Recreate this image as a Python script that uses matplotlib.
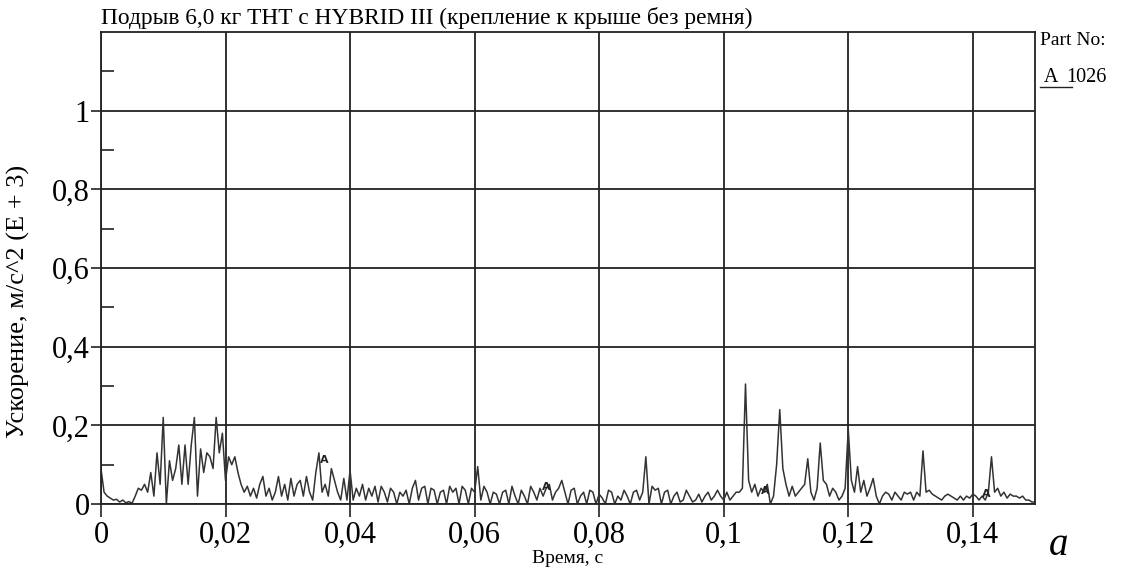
import numpy as np
import matplotlib
matplotlib.use('Agg')
from matplotlib import pyplot as plt
from matplotlib.ticker import FixedLocator

plt.rcParams['font.family'] = ['Liberation Serif', 'DejaVu Serif']

dt = 0.0005
accel = [
    0.09, 0.03, 0.02, 0.015, 0.01, 0.012, 0.005, 0.01, 0.003, 0.006,
    0.002, 0.02, 0.04, 0.035, 0.05, 0.03, 0.08, 0.02, 0.13, 0.05,
    0.22, 0.0, 0.11, 0.06, 0.09, 0.15, 0.05, 0.15, 0.05, 0.15,
    0.22, 0.02, 0.14, 0.08, 0.13, 0.12, 0.09, 0.22, 0.13, 0.18,
    0.06, 0.12, 0.10, 0.12, 0.08, 0.05, 0.03, 0.045, 0.02, 0.04,
    0.015, 0.05, 0.07, 0.02, 0.04, 0.01, 0.03, 0.07, 0.02, 0.05,
    0.01, 0.065, 0.02, 0.05, 0.06, 0.02, 0.07, 0.03, 0.01, 0.08,
    0.13, 0.03, 0.05, 0.02, 0.09, 0.06, 0.03, 0.01, 0.065, 0.01,
    0.085, 0.01, 0.04, 0.02, 0.05, 0.01, 0.04, 0.02, 0.045, 0.005,
    0.045, 0.03, 0.005, 0.04, 0.03, 0.0, 0.03, 0.02, 0.035, 0.0,
    0.04, 0.06, 0.01, 0.04, 0.045, 0.0, 0.04, 0.035, 0.0, 0.03,
    0.035, 0.0, 0.045, 0.03, 0.04, 0.0, 0.045, 0.035, 0.0, 0.04,
    0.03, 0.095, 0.01, 0.045, 0.03, 0.0, 0.03, 0.025, 0.0, 0.03,
    0.035, 0.0, 0.045, 0.02, 0.0, 0.035, 0.02, 0.0, 0.045, 0.03,
    0.01, 0.04, 0.02, 0.04, 0.05, 0.01, 0.03, 0.04, 0.06, 0.03,
    0.0, 0.035, 0.04, 0.0, 0.02, 0.03, 0.0, 0.035, 0.03, 0.0,
    0.025, 0.015, 0.0, 0.035, 0.03, 0.0, 0.02, 0.01, 0.035, 0.02,
    0.0, 0.03, 0.035, 0.01, 0.03, 0.12, 0.0, 0.045, 0.035, 0.04,
    0.0, 0.03, 0.035, 0.0, 0.02, 0.03, 0.005, 0.01, 0.035, 0.02,
    0.005, 0.01, 0.025, 0.005, 0.02, 0.03, 0.01, 0.02, 0.035, 0.02,
    0.01, 0.03, 0.01, 0.02, 0.03, 0.03, 0.04, 0.305, 0.06, 0.03,
    0.05, 0.02, 0.04, 0.03, 0.05, 0.0, 0.02, 0.10, 0.24, 0.09,
    0.05, 0.02, 0.045, 0.02, 0.03, 0.04, 0.05, 0.115, 0.03, 0.01,
    0.04, 0.155, 0.06, 0.05, 0.02, 0.04, 0.03, 0.01, 0.02, 0.04,
    0.19, 0.06, 0.03, 0.095, 0.03, 0.06, 0.02, 0.04, 0.065, 0.02,
    0.0, 0.02, 0.03, 0.025, 0.01, 0.03, 0.02, 0.01, 0.03, 0.025,
    0.03, 0.01, 0.03, 0.02, 0.135, 0.03, 0.035, 0.025, 0.02, 0.015,
    0.01, 0.02, 0.025, 0.02, 0.015, 0.01, 0.02, 0.01, 0.02, 0.015,
    0.025, 0.02, 0.01, 0.02, 0.01, 0.03, 0.12, 0.03, 0.04, 0.02,
    0.03, 0.015, 0.025, 0.02, 0.02, 0.015, 0.02, 0.01, 0.01, 0.005,
    0.005,
]
time = np.arange(len(accel)) * dt

# "A" markers along the trace
mark_t = [0.0359, 0.0715, 0.1067, 0.1422]
mark_y = [0.112, 0.043, 0.033, 0.025]

xticks = [0, 0.02, 0.04, 0.06, 0.08, 0.1, 0.12, 0.14]
xlabels = ['0', '0,02', '0,04', '0,06', '0,08', '0,1', '0,12', '0,14']
yticks = [0, 0.2, 0.4, 0.6, 0.8, 1.0]
ylabels = ['0', '0,2', '0,4', '0,6', '0,8', '1']

fig = plt.figure(figsize=(11.23, 5.72), dpi=100)
ax = fig.add_axes([0.0899, 0.1189, 0.8318, 0.8251])

ax.plot(time, accel, color='#333333', lw=1.1)
for t, y in zip(mark_t, mark_y):
    ax.text(t, y, 'A', fontsize=8, fontweight='bold', family='DejaVu Sans',
            ha='center', va='center', color='#222222')

ax.set_xlim(0, 0.15)
ax.set_ylim(0, 1.2)
ax.set_xticks(xticks)
ax.set_xticklabels(xlabels)
ax.set_yticks(yticks)
ax.set_yticklabels(ylabels)
ax.yaxis.set_minor_locator(FixedLocator([0.1, 0.3, 0.5, 0.7, 0.9, 1.1]))
ax.tick_params(axis='both', which='major', labelsize=22, width=1.2,
               direction='out', color='#222222')
ax.tick_params(axis='x', which='major', length=9, pad=3)
ax.tick_params(axis='y', which='major', length=7, pad=1)
ax.tick_params(axis='y', which='minor', length=9, width=1.2,
               direction='in', color='#222222')
ax.grid(True, which='major', color='#222222', lw=1.3)
for s in ax.spines.values():
    s.set_color('#222222')
    s.set_linewidth(1.3)

ax.set_xlabel('Время, с', fontsize=14, labelpad=0)
ax.set_ylabel('Ускорение, м/с^2 (E + 3)', fontsize=19)
ax.yaxis.set_label_coords(-0.076, 0.43)

fig.text(0.0899, 0.968, 'Подрыв 6,0 кг ТНТ с HYBRID III (крепление к крыше без ремня)',
         fontsize=16.8, ha='left', va='center')
fig.text(0.926, 0.93, 'Part No:', fontsize=14, ha='left', va='center')
fig.text(0.926, 0.865, ' A', fontsize=14.5, ha='left', va='center')
fig.text(0.949, 0.865, '1026', fontsize=14.5, ha='left', va='center')
fig.add_artist(plt.Line2D([0.926, 0.955], [0.848, 0.848], color='#222222', lw=1))
fig.text(0.934, 0.047, 'a', fontsize=28, style='italic', ha='left', va='center')

fig.savefig('out.png', dpi=100)
